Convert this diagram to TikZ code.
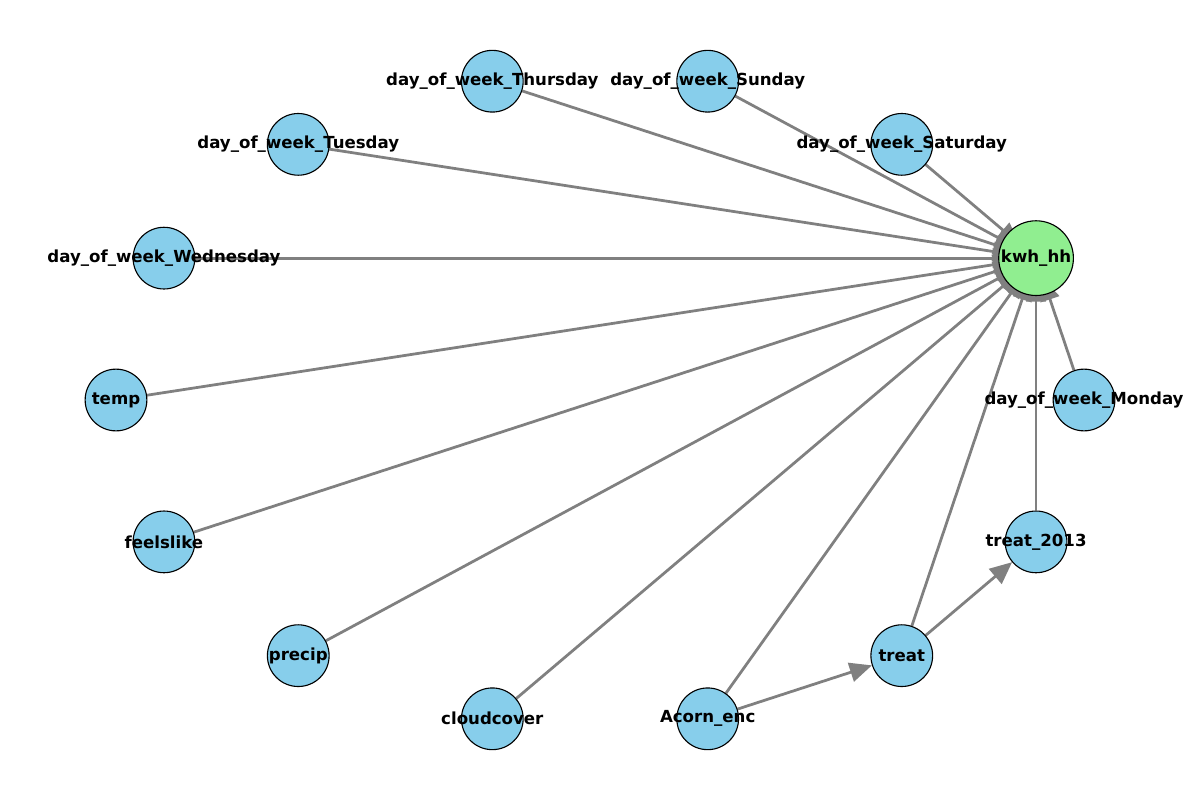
\documentclass[tikz,border=0pt]{standalone}
\usepackage{fontspec}
\setmainfont{DejaVu Sans}
\usetikzlibrary{arrows.meta,backgrounds}
\definecolor{nodeblue}{HTML}{87CEEB}
\definecolor{nodegreen}{HTML}{90EE90}
\definecolor{edgegray}{HTML}{808080}

\begin{document}
\begin{tikzpicture}[x=0.254mm, y=-0.254mm,
    var/.style={circle, draw=black, line width=0.8pt, fill=nodeblue, minimum size=44.6pt, inner sep=0pt},
    target/.style={var, fill=nodegreen, minimum size=54pt},
    lab/.style={font=\fontsize{12}{14}\selectfont\bfseries, inner sep=0pt},
    edge/.style={draw=edgegray, line width=2pt, -{Triangle[length=16pt, width=14pt]}}]
            \useasboundingbox (0,0) rectangle (1200,800);

            % Draw the nodes on an ellipse
            \foreach \k/\name/\txt in {0/mon/day\_of\_week\_Monday, 2/sat/day\_of\_week\_Saturday,
                3/sun/day\_of\_week\_Sunday, 4/thu/day\_of\_week\_Thursday, 5/tue/day\_of\_week\_Tuesday,
                6/wed/day\_of\_week\_Wednesday, 7/temp/temp, 8/feels/feelslike, 9/precip/precip,
                10/cloud/cloudcover, 11/acorn/Acorn\_enc, 12/treat/treat, 13/treatyr/treat\_2013} {
                \node[var] (\name) at ({600+484*cos(\k*360/14)}, {400-327*sin(\k*360/14)}) {};
                \node[lab] at (\name) {\txt};
            }
            \node[target] (kwh) at ({600+484*cos(360/14)}, {400-327*sin(360/14)}) {};
            \node[lab] at (kwh) {kwh\_hh};

            % Edges
            \begin{scope}[on background layer]
                \foreach \src in {mon, sat, sun, thu, tue, wed, temp, feels, precip, cloud, acorn, treat, treatyr} {
                    \draw[edge, shorten >=-12pt] (\src) -- (kwh);
                }
                \draw[edge] (acorn) -- (treat);
                \draw[edge] (treat) -- (treatyr);
            \end{scope}
        \end{tikzpicture}
\end{document}
